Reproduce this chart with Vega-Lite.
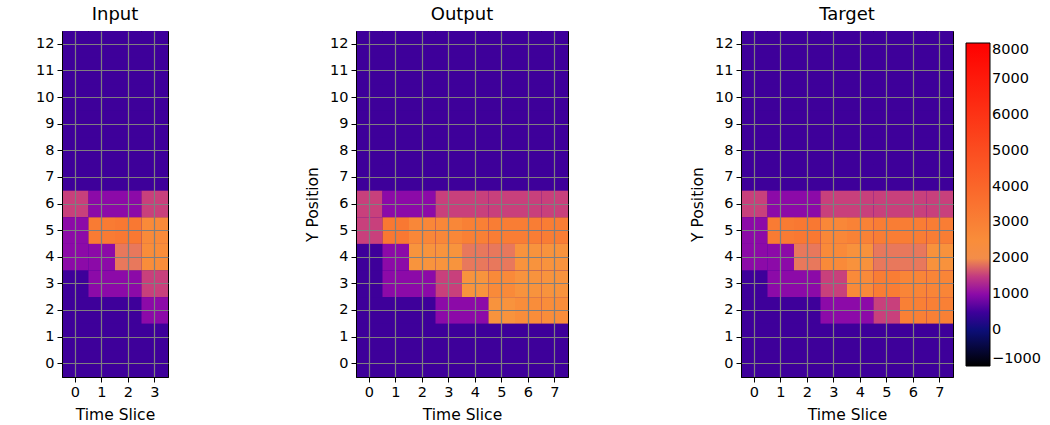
{
  "$schema": "https://vega.github.io/schema/vega-lite/v6.json",
  "padding": {"left": 35, "top": 5, "right": 5, "bottom": 5},
  "background": "white",
  "config": {
    "font": "DejaVu Sans",
    "view": {"stroke": "black", "strokeWidth": 1, "fill": "#3e009a"},
    "axis": {
      "labelFont": "DejaVu Sans", "labelFontSize": 14.5, "labelColor": "black",
      "titleFont": "DejaVu Sans", "titleFontSize": 15.5, "titleFontWeight": "normal", "titleColor": "black",
      "tickColor": "black", "tickSize": 5, "tickWidth": 1, "domainColor": "black", "domainWidth": 1,
      "gridColor": "#7f7f7f", "gridOpacity": 1, "gridWidth": 1.2,
      "labelPadding": 3, "titlePadding": 9, "zindex": 1
    },
    "title": {"fontSize": 18, "fontWeight": "normal", "color": "black", "offset": 7, "font": "DejaVu Sans"},
    "legend": {
      "gradientLength": 323, "gradientThickness": 24, "gradientStrokeColor": "black", "gradientStrokeWidth": 1,
      "labelFontSize": 14.5, "labelColor": "black", "labelFont": "DejaVu Sans", "labelOffset": 6, "offset": 12,
      "titleFontSize": 1, "titlePadding": 11
    }
  },
  "datasets": {
    "input": [
      {"t":0,"y":12,"v":500},{"t":1,"y":12,"v":500},{"t":2,"y":12,"v":500},{"t":3,"y":12,"v":500},
      {"t":0,"y":11,"v":500},{"t":1,"y":11,"v":500},{"t":2,"y":11,"v":500},{"t":3,"y":11,"v":500},
      {"t":0,"y":10,"v":500},{"t":1,"y":10,"v":500},{"t":2,"y":10,"v":500},{"t":3,"y":10,"v":500},
      {"t":0,"y":9,"v":500},{"t":1,"y":9,"v":500},{"t":2,"y":9,"v":500},{"t":3,"y":9,"v":500},
      {"t":0,"y":8,"v":500},{"t":1,"y":8,"v":500},{"t":2,"y":8,"v":500},{"t":3,"y":8,"v":500},
      {"t":0,"y":7,"v":500},{"t":1,"y":7,"v":500},{"t":2,"y":7,"v":500},{"t":3,"y":7,"v":500},
      {"t":0,"y":6,"v":1550},{"t":1,"y":6,"v":1000},{"t":2,"y":6,"v":1000},{"t":3,"y":6,"v":1550},
      {"t":0,"y":5,"v":1000},{"t":1,"y":5,"v":3200},{"t":2,"y":5,"v":3300},{"t":3,"y":5,"v":2600},
      {"t":0,"y":4,"v":1000},{"t":1,"y":4,"v":1000},{"t":2,"y":4,"v":1900},{"t":3,"y":4,"v":2500},
      {"t":0,"y":3,"v":500},{"t":1,"y":3,"v":1000},{"t":2,"y":3,"v":1000},{"t":3,"y":3,"v":1550},
      {"t":0,"y":2,"v":500},{"t":1,"y":2,"v":500},{"t":2,"y":2,"v":500},{"t":3,"y":2,"v":1000},
      {"t":0,"y":1,"v":500},{"t":1,"y":1,"v":500},{"t":2,"y":1,"v":500},{"t":3,"y":1,"v":500},
      {"t":0,"y":0,"v":500},{"t":1,"y":0,"v":500},{"t":2,"y":0,"v":500},{"t":3,"y":0,"v":500}
    ],
    "output": [
      {"t":0,"y":12,"v":500},{"t":1,"y":12,"v":500},{"t":2,"y":12,"v":500},{"t":3,"y":12,"v":500},{"t":4,"y":12,"v":500},{"t":5,"y":12,"v":500},{"t":6,"y":12,"v":500},{"t":7,"y":12,"v":500},
      {"t":0,"y":11,"v":500},{"t":1,"y":11,"v":500},{"t":2,"y":11,"v":500},{"t":3,"y":11,"v":500},{"t":4,"y":11,"v":500},{"t":5,"y":11,"v":500},{"t":6,"y":11,"v":500},{"t":7,"y":11,"v":500},
      {"t":0,"y":10,"v":500},{"t":1,"y":10,"v":500},{"t":2,"y":10,"v":500},{"t":3,"y":10,"v":500},{"t":4,"y":10,"v":500},{"t":5,"y":10,"v":500},{"t":6,"y":10,"v":500},{"t":7,"y":10,"v":500},
      {"t":0,"y":9,"v":500},{"t":1,"y":9,"v":500},{"t":2,"y":9,"v":500},{"t":3,"y":9,"v":500},{"t":4,"y":9,"v":500},{"t":5,"y":9,"v":500},{"t":6,"y":9,"v":500},{"t":7,"y":9,"v":500},
      {"t":0,"y":8,"v":500},{"t":1,"y":8,"v":500},{"t":2,"y":8,"v":500},{"t":3,"y":8,"v":500},{"t":4,"y":8,"v":500},{"t":5,"y":8,"v":500},{"t":6,"y":8,"v":500},{"t":7,"y":8,"v":500},
      {"t":0,"y":7,"v":500},{"t":1,"y":7,"v":500},{"t":2,"y":7,"v":500},{"t":3,"y":7,"v":500},{"t":4,"y":7,"v":500},{"t":5,"y":7,"v":500},{"t":6,"y":7,"v":500},{"t":7,"y":7,"v":500},
      {"t":0,"y":6,"v":1550},{"t":1,"y":6,"v":1000},{"t":2,"y":6,"v":1000},{"t":3,"y":6,"v":1550},{"t":4,"y":6,"v":1550},{"t":5,"y":6,"v":1550},{"t":6,"y":6,"v":1550},{"t":7,"y":6,"v":1550},
      {"t":0,"y":5,"v":1550},{"t":1,"y":5,"v":3300},{"t":2,"y":5,"v":2700},{"t":3,"y":5,"v":2700},{"t":4,"y":5,"v":3000},{"t":5,"y":5,"v":3100},{"t":6,"y":5,"v":3100},{"t":7,"y":5,"v":3100},
      {"t":0,"y":4,"v":500},{"t":1,"y":4,"v":1000},{"t":2,"y":4,"v":2200},{"t":3,"y":4,"v":2200},{"t":4,"y":4,"v":1900},{"t":5,"y":4,"v":1900},{"t":6,"y":4,"v":2250},{"t":7,"y":4,"v":2250},
      {"t":0,"y":3,"v":500},{"t":1,"y":3,"v":1000},{"t":2,"y":3,"v":1000},{"t":3,"y":3,"v":1550},{"t":4,"y":3,"v":2200},{"t":5,"y":3,"v":2600},{"t":6,"y":3,"v":2250},{"t":7,"y":3,"v":2250},
      {"t":0,"y":2,"v":500},{"t":1,"y":2,"v":500},{"t":2,"y":2,"v":500},{"t":3,"y":2,"v":1000},{"t":4,"y":2,"v":1000},{"t":5,"y":2,"v":2250},{"t":6,"y":2,"v":2500},{"t":7,"y":2,"v":2500},
      {"t":0,"y":1,"v":500},{"t":1,"y":1,"v":500},{"t":2,"y":1,"v":500},{"t":3,"y":1,"v":500},{"t":4,"y":1,"v":500},{"t":5,"y":1,"v":500},{"t":6,"y":1,"v":500},{"t":7,"y":1,"v":500},
      {"t":0,"y":0,"v":500},{"t":1,"y":0,"v":500},{"t":2,"y":0,"v":500},{"t":3,"y":0,"v":500},{"t":4,"y":0,"v":500},{"t":5,"y":0,"v":500},{"t":6,"y":0,"v":500},{"t":7,"y":0,"v":500}
    ],
    "target": [
      {"t":0,"y":12,"v":500},{"t":1,"y":12,"v":500},{"t":2,"y":12,"v":500},{"t":3,"y":12,"v":500},{"t":4,"y":12,"v":500},{"t":5,"y":12,"v":500},{"t":6,"y":12,"v":500},{"t":7,"y":12,"v":500},
      {"t":0,"y":11,"v":500},{"t":1,"y":11,"v":500},{"t":2,"y":11,"v":500},{"t":3,"y":11,"v":500},{"t":4,"y":11,"v":500},{"t":5,"y":11,"v":500},{"t":6,"y":11,"v":500},{"t":7,"y":11,"v":500},
      {"t":0,"y":10,"v":500},{"t":1,"y":10,"v":500},{"t":2,"y":10,"v":500},{"t":3,"y":10,"v":500},{"t":4,"y":10,"v":500},{"t":5,"y":10,"v":500},{"t":6,"y":10,"v":500},{"t":7,"y":10,"v":500},
      {"t":0,"y":9,"v":500},{"t":1,"y":9,"v":500},{"t":2,"y":9,"v":500},{"t":3,"y":9,"v":500},{"t":4,"y":9,"v":500},{"t":5,"y":9,"v":500},{"t":6,"y":9,"v":500},{"t":7,"y":9,"v":500},
      {"t":0,"y":8,"v":500},{"t":1,"y":8,"v":500},{"t":2,"y":8,"v":500},{"t":3,"y":8,"v":500},{"t":4,"y":8,"v":500},{"t":5,"y":8,"v":500},{"t":6,"y":8,"v":500},{"t":7,"y":8,"v":500},
      {"t":0,"y":7,"v":500},{"t":1,"y":7,"v":500},{"t":2,"y":7,"v":500},{"t":3,"y":7,"v":500},{"t":4,"y":7,"v":500},{"t":5,"y":7,"v":500},{"t":6,"y":7,"v":500},{"t":7,"y":7,"v":500},
      {"t":0,"y":6,"v":1550},{"t":1,"y":6,"v":1000},{"t":2,"y":6,"v":1000},{"t":3,"y":6,"v":1550},{"t":4,"y":6,"v":1550},{"t":5,"y":6,"v":1550},{"t":6,"y":6,"v":1550},{"t":7,"y":6,"v":1550},
      {"t":0,"y":5,"v":1000},{"t":1,"y":5,"v":3200},{"t":2,"y":5,"v":3300},{"t":3,"y":5,"v":2700},{"t":4,"y":5,"v":2900},{"t":5,"y":5,"v":3100},{"t":6,"y":5,"v":3100},{"t":7,"y":5,"v":3100},
      {"t":0,"y":4,"v":1000},{"t":1,"y":4,"v":1000},{"t":2,"y":4,"v":1900},{"t":3,"y":4,"v":2600},{"t":4,"y":4,"v":2300},{"t":5,"y":4,"v":1900},{"t":6,"y":4,"v":1900},{"t":7,"y":4,"v":2300},
      {"t":0,"y":3,"v":500},{"t":1,"y":3,"v":1000},{"t":2,"y":3,"v":1000},{"t":3,"y":3,"v":1550},{"t":4,"y":3,"v":2600},{"t":5,"y":3,"v":3100},{"t":6,"y":3,"v":2800},{"t":7,"y":3,"v":2800},
      {"t":0,"y":2,"v":500},{"t":1,"y":2,"v":500},{"t":2,"y":2,"v":500},{"t":3,"y":2,"v":1000},{"t":4,"y":2,"v":1000},{"t":5,"y":2,"v":1550},{"t":6,"y":2,"v":3000},{"t":7,"y":2,"v":3000},
      {"t":0,"y":1,"v":500},{"t":1,"y":1,"v":500},{"t":2,"y":1,"v":500},{"t":3,"y":1,"v":500},{"t":4,"y":1,"v":500},{"t":5,"y":1,"v":500},{"t":6,"y":1,"v":500},{"t":7,"y":1,"v":500},
      {"t":0,"y":0,"v":500},{"t":1,"y":0,"v":500},{"t":2,"y":0,"v":500},{"t":3,"y":0,"v":500},{"t":4,"y":0,"v":500},{"t":5,"y":0,"v":500},{"t":6,"y":0,"v":500},{"t":7,"y":0,"v":500}
    ]
  },
  "spacing": 136,
  "hconcat": [
    {
      "title": "Input",
      "width": 106, "height": 346,
      "data": {"name": "input"},
      "mark": {"type": "rect"},
      "encoding": {
        "x": {"field": "t", "type": "ordinal", "title": "Time Slice", "axis": {"labelAngle": 0, "grid": true, "tickBand": "center", "bandPosition": 0.5, "zindex": 2}},
        "y": {"field": "y", "type": "ordinal", "sort": "descending", "title": null, "axis": {"grid": true, "tickBand": "center", "bandPosition": 0.5, "zindex": 2}},
        "color": {"field": "v", "type": "quantitative",
          "scale": {"type": "linear", "interpolate": "rgb", "domain": [-1000, 0, 500, 1000, 1550, 1900, 2050, 8000],
            "range": ["#000000", "#0c0e78", "#3e009a", "#8c0aa8", "#c8407c", "#e8785c", "#f8983f", "#ff0000"]},
          "legend": {"title": " ", "values": [-1000, 0, 1000, 2000, 3000, 4000, 5000, 6000, 7000, 8000], "format": "d"}}
      }
    },
    {
      "spacing": 173,
      "bounds": "flush",
      "hconcat": [
        {
          "title": "Output",
          "width": 212, "height": 346,
          "data": {"name": "output"},
          "mark": {"type": "rect"},
          "encoding": {
            "x": {"field": "t", "type": "ordinal", "title": "Time Slice", "axis": {"labelAngle": 0, "grid": true, "tickBand": "center", "bandPosition": 0.5, "zindex": 2}},
            "y": {"field": "y", "type": "ordinal", "sort": "descending", "title": "Y Position", "axis": {"grid": true, "tickBand": "center", "bandPosition": 0.5, "zindex": 2}},
            "color": {"field": "v", "type": "quantitative"}
          }
        },
        {
          "title": "Target",
          "width": 212, "height": 346,
          "data": {"name": "target"},
          "mark": {"type": "rect"},
          "encoding": {
            "x": {"field": "t", "type": "ordinal", "title": "Time Slice", "axis": {"labelAngle": 0, "grid": true, "tickBand": "center", "bandPosition": 0.5, "zindex": 2}},
            "y": {"field": "y", "type": "ordinal", "sort": "descending", "title": "Y Position", "axis": {"grid": true, "tickBand": "center", "bandPosition": 0.5, "zindex": 2}},
            "color": {"field": "v", "type": "quantitative"}
          }
        }
      ]
    }
  ]
}
